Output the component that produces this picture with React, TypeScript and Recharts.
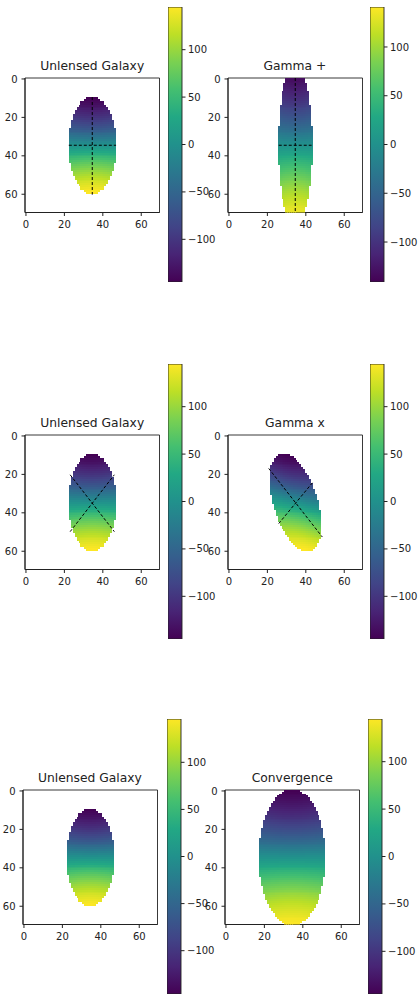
import { ScatterChart, Scatter, XAxis, YAxis, ReferenceArea, BarChart, Bar } from "recharts";

// image grid and axis ticks
const GRID_SIZE = 70;
const AXIS_TICKS = [0, 20, 40, 60];
const COLORBAR_TICKS = [-100, -50, 0, 50, 100];

const TITLES = ["Unlensed Galaxy", "Gamma +", "Unlensed Galaxy", "Gamma x", "Unlensed Galaxy", "Convergence"];
// symmetric colour limits
const COLOR_LIMITS = [145, 141, 145, 145, 146, 145];

// source galaxy
const GALAXY_CENTRE = [34.5, 34.5];
const GALAXY_SEMI_AXES = [12.3, 25.2];
const ROTATION_PEAK = 207;
const ROTATION_CORE = 25;

// image = M * source, M = [m00, m01, m10, m11]
const LENS_MAPS = [
  [1, 0, 0, 1],
  [0.71, 0, 0, 1.65],
  [1, 0, 0, 1],
  [1, 0.2, 0.2, 1],
  [1, 0, 0, 1],
  [1.4, 0, 0, 1.4],
];

// dashed guide lines [x1, y1, x2, y2]
const GUIDES = [
  [[22.3, 34.5, 46.9, 34.5], [34.5, 9.4, 34.5, 60.2]],
  [[25.9, 34.5, 43.0, 34.5], [34.5, -0.5, 34.5, 69.5]],
  [[23.0, 20.2, 46.0, 49.8], [23.0, 49.8, 46.0, 20.2]],
  [[20.7, 16.9, 48.6, 52.6], [25.9, 45.6, 43.4, 24.4]],
  [],
  [],
];

const VIRIDIS = ["#440154", "#482475", "#414487", "#355f8d", "#2a788e", "#21918c", "#22a884", "#44bf70", "#7ad151", "#bddf26", "#fde725"];

// layout
const BOX = 134.5;
const BOX_POS = [[25, 77.7], [227.7, 77.7], [25, 435], [227.7, 435], [22.7, 790], [225, 790]];
const CB_POS = [[168, 7], [370, 7], [168, 364.3], [370, 364.3], [166.7, 719.3], [367.7, 719.3]];
const CB_W = 14;
const CB_H = 275;
const FONT = "'DejaVu Sans', sans-serif";
const INK = "#222";

function hexRgb(h: string) {
  return [parseInt(h.slice(1, 3), 16), parseInt(h.slice(3, 5), 16), parseInt(h.slice(5, 7), 16)];
}
const VIRIDIS_RGB = VIRIDIS.map(hexRgb);

function viridis(f: number) {
  const t = Math.max(0, Math.min(1, f)) * (VIRIDIS.length - 1);
  const i = Math.min(Math.floor(t), VIRIDIS.length - 2);
  const r = t - i;
  const a = VIRIDIS_RGB[i];
  const b = VIRIDIS_RGB[i + 1];
  const c = a.map((v, k) => Math.round(v + (b[k] - v) * r));
  return `rgb(${c[0]},${c[1]},${c[2]})`;
}

function buildPixels(m: number[]) {
  const [a, b, c, d] = m;
  const det = a * d - b * c;
  const [cx, cy] = GALAXY_CENTRE;
  const [sa, sb] = GALAXY_SEMI_AXES;
  const out: { x: number; y: number; v: number }[] = [];
  for (let j = 0; j < GRID_SIZE; j++) {
    for (let i = 0; i < GRID_SIZE; i++) {
      const dx = i - cx;
      const dy = j - cy;
      const sx = (d * dx - b * dy) / det;
      const sy = (-c * dx + a * dy) / det;
      if ((sx / sa) ** 2 + (sy / sb) ** 2 > 1) continue;
      const v = (ROTATION_PEAK * sy) / Math.sqrt(sx * sx + sy * sy + ROTATION_CORE * ROTATION_CORE);
      out.push({ x: i, y: j, v });
    }
  }
  return out;
}

const PANEL_PIXELS = LENS_MAPS.map(buildPixels);

const fmt = (v: number) => (v < 0 ? `\u2212${-v}` : `${v}`);
const tickStyle = { fill: INK, fontSize: 10, fontFamily: FONT };

function ImagePanel({ idx }: { idx: number }) {
  const [left, top] = BOX_POS[idx];
  const lim = COLOR_LIMITS[idx];
  const px = BOX / GRID_SIZE + 0.6;
  const padL = 30, padT = 20, padR = 6, padB = 24;
  return (
    <>
      <div
        style={{
          position: "absolute", left, top: top - 17.6, width: BOX, textAlign: "center",
          fontFamily: FONT, fontSize: 12.3, lineHeight: "12px", color: INK, whiteSpace: "nowrap",
        }}
      >
        {TITLES[idx]}
      </div>
      <div style={{ position: "absolute", left: left - padL, top: top - padT }}>
        <ScatterChart width={padL + BOX + padR} height={padT + BOX + padB} margin={{ top: padT, right: padR, left: 0, bottom: 0 }}>
          <XAxis
            dataKey="x" type="number" domain={[-0.5, GRID_SIZE - 0.5]} ticks={AXIS_TICKS} allowDataOverflow
            height={padB} tick={tickStyle} tickSize={3.5} tickMargin={5} stroke={INK}
          />
          <YAxis
            dataKey="y" type="number" domain={[-0.5, GRID_SIZE - 0.5]} ticks={AXIS_TICKS} allowDataOverflow reversed
            width={padL} tick={tickStyle} tickSize={3.5} tickMargin={4} stroke={INK}
          />
          <Scatter
            data={PANEL_PIXELS[idx]}
            isAnimationActive={false}
            shape={(p: any) => (
              <rect
                x={p.cx - px / 2} y={p.cy - px / 2} width={px} height={px}
                shapeRendering="crispEdges"
                fill={viridis((p.payload.v + lim) / (2 * lim))}
              />
            )}
          />
          {GUIDES[idx].map((g, k) => (
            <Scatter
              key={k}
              data={[{ x: g[0], y: g[1] }, { x: g[2], y: g[3] }]}
              isAnimationActive={false}
              line={{ stroke: "#000", strokeWidth: 1, strokeDasharray: "3 2" }}
              lineType="joint"
              shape={() => <g />}
            />
          ))}
          <ReferenceArea x1={-0.5} x2={GRID_SIZE - 0.5} y1={-0.5} y2={GRID_SIZE - 0.5} fill="none" fillOpacity={0} stroke={INK} strokeWidth={0.9} />
        </ScatterChart>
      </div>
    </>
  );
}

function Colorbar({ idx }: { idx: number }) {
  const [left, top] = CB_POS[idx];
  const lim = COLOR_LIMITS[idx];
  const data = [{ k: "cb", span: [-lim, lim] }];
  const axisW = 44;
  return (
    <div style={{ position: "absolute", left, top }}>
      <BarChart width={CB_W + axisW} height={CB_H} data={data} margin={{ top: 0, right: 0, left: 0, bottom: 0 }} barCategoryGap={0} barGap={0}>
        <XAxis dataKey="k" hide />
        <YAxis
          orientation="right" type="number" domain={[-lim, lim]} allowDataOverflow ticks={COLORBAR_TICKS}
          width={axisW} tick={tickStyle} tickSize={3.5} tickMargin={2.5} axisLine={false} stroke={INK} tickFormatter={fmt}
        />
        <Bar dataKey="span" fill="url(#viridis-cb)" stroke={INK} strokeWidth={0.9} isAnimationActive={false} />
      </BarChart>
    </div>
  );
}

export default function App() {
  return (
    <div style={{ position: "absolute", left: 0, top: 0, width: 419, height: 994, background: "#fff", overflow: "hidden" }}>
      <svg width={0} height={0} style={{ position: "absolute" }}>
        <defs>
          <linearGradient id="viridis-cb" x1="0" y1="1" x2="0" y2="0">
            {VIRIDIS.map((c, i) => (
              <stop key={i} offset={`${(i / (VIRIDIS.length - 1)) * 100}%`} stopColor={c} />
            ))}
          </linearGradient>
        </defs>
      </svg>
      {TITLES.map((_, i) => (
        <Colorbar key={`cb${i}`} idx={i} />
      ))}
      {TITLES.map((_, i) => (
        <ImagePanel key={`im${i}`} idx={i} />
      ))}
    </div>
  );
}
